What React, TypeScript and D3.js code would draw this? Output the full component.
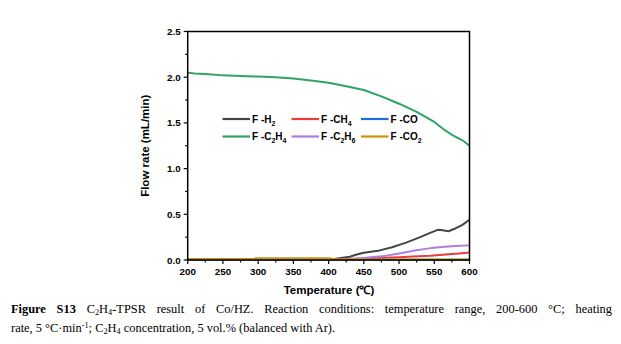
import React from "react";
import * as d3 from "d3";

const xTicks = [200, 250, 300, 350, 400, 450, 500, 550, 600];
const yTicks = [0.0, 0.5, 1.0, 1.5, 2.0, 2.5];

const tempH2 = [200, 300, 400, 410, 420, 430, 440, 450, 470, 490, 510, 530, 545, 555, 562, 570, 580, 590, 600];
const flowH2 = [0.005, 0.005, 0.008, 0.015, 0.025, 0.036, 0.06, 0.08, 0.1, 0.14, 0.19, 0.25, 0.3, 0.33, 0.325, 0.315, 0.345, 0.385, 0.44];

const tempCH4 = [200, 400, 420, 460, 500, 520, 545, 570, 585, 600];
const flowCH4 = [0.004, 0.008, 0.012, 0.02, 0.03, 0.037, 0.047, 0.062, 0.07, 0.082];

const tempCO = [200, 600];
const flowCO = [0.002, 0.002];

const tempC2H4 = [200, 210, 225, 250, 275, 300, 325, 350, 375, 400, 425, 450, 475, 500, 525, 550, 565, 575, 590, 600];
const flowC2H4 = [2.05, 2.04, 2.035, 2.02, 2.012, 2.008, 2.0, 1.985, 1.965, 1.94, 1.9, 1.86, 1.79, 1.71, 1.62, 1.51, 1.42, 1.37, 1.31, 1.25];

const tempC2H6 = [200, 420, 440, 460, 480, 500, 520, 545, 565, 580, 600];
const flowC2H6 = [0.003, 0.005, 0.015, 0.03, 0.045, 0.07, 0.1, 0.13, 0.145, 0.152, 0.16];

const tempCO2 = [200, 295, 296, 400, 410, 600];
const flowCO2 = [0.01, 0.01, 0.02, 0.02, 0.008, 0.005];

const seriesNames = ["H2", "CH4", "CO", "C2H4", "C2H6", "CO2"];
const seriesColors = ["#454545", "#ec3b3b", "#1f6fd4", "#2ea364", "#b07ce0", "#c9930c"];
const seriesTemps = [tempH2, tempCH4, tempCO, tempC2H4, tempC2H6, tempCO2];
const seriesFlows = [flowH2, flowCH4, flowCO, flowC2H4, flowC2H6, flowCO2];

const SANS = "'Liberation Sans', Arial, sans-serif";
const SERIF = "'Liberation Serif', 'Times New Roman', serif";

function Formula({ name }: { name: string }) {
  const parts = name.match(/[A-Za-z]+|\d+/g) || [];
  return (
    <>
      {parts.map((p, i) =>
        /\d/.test(p) ? (
          <tspan key={i} fontSize={7} dy={3}>{p}</tspan>
        ) : (
          <tspan key={i} dy={i > 0 && /\d/.test(parts[i - 1]) ? -3 : 0}>{p}</tspan>
        )
      )}
    </>
  );
}

const subStyle = { fontSize: "8.3px", lineHeight: 0, verticalAlign: "-2px" };
const supStyle = { fontSize: "8.3px", lineHeight: 0, verticalAlign: "4px" };

export default function App() {
  const x = d3.scaleLinear().domain([200, 600]).range([187.7, 469.5]);
  const y = d3.scaleLinear().domain([0, 2.5]).range([260, 31.5]);
  const line = d3
    .line<[number, number]>()
    .x((d) => x(d[0]))
    .y((d) => y(d[1]));

  const xMinor = d3.range(200, 601, 25).filter((v) => v % 50 !== 0);
  const yMinor = d3.range(0.25, 2.5, 0.5);

  const legendCols = [222.5, 291.5, 361];
  const legendRows = [119, 136.5];

  return (
    <svg
      width={621}
      height={344}
      style={{ position: "absolute", left: 0, top: 0, background: "#fff" }}
    >
      <rect x={0} y={0} width={621} height={344} fill="#fff" />
      <g fill="none" strokeWidth={2} strokeLinejoin="round">
        {seriesNames.map((n, i) => (
          <path
            key={n}
            d={line(seriesTemps[i].map((t, j) => [t, seriesFlows[i][j]] as [number, number])) || ""}
            stroke={seriesColors[i]}
          />
        ))}
      </g>
      <rect
        x={x(200)}
        y={y(2.5)}
        width={x(600) - x(200)}
        height={y(0) - y(2.5)}
        fill="none"
        stroke="#000"
        strokeWidth={1.5}
      />
      <g stroke="#000" strokeWidth={1.2}>
        {xTicks.map((t) => (
          <line key={"xt" + t} x1={x(t)} x2={x(t)} y1={y(0)} y2={y(0) + 4} />
        ))}
        {xMinor.map((t) => (
          <line key={"xm" + t} x1={x(t)} x2={x(t)} y1={y(0)} y2={y(0) + 2.5} />
        ))}
        {yTicks.map((t) => (
          <line key={"yt" + t} x1={x(200) - 4} x2={x(200)} y1={y(t)} y2={y(t)} />
        ))}
        {yMinor.map((t) => (
          <line key={"ym" + t} x1={x(200) - 2.5} x2={x(200)} y1={y(t)} y2={y(t)} />
        ))}
      </g>
      <g fontFamily={SANS} fontWeight="bold" fontSize={9.8} fill="#000">
        {xTicks.map((t) => (
          <text key={"xl" + t} x={x(t)} y={y(0) + 14.5} textAnchor="middle">
            {t}
          </text>
        ))}
        {yTicks.map((t) => (
          <text key={"yl" + t} x={x(200) - 7} y={y(t) + 3.5} textAnchor="end">
            {t.toFixed(1)}
          </text>
        ))}
      </g>
      <text x={329} y={294} textAnchor="middle" fontFamily={SANS} fontWeight="bold" fontSize={11.5}>
        Temperature (℃)
      </text>
      <text
        transform={`translate(149,${y(1.25)}) rotate(-90)`}
        textAnchor="middle"
        fontFamily={SANS}
        fontWeight="bold"
        fontSize={11.5}
      >
        Flow rate (mL/min)
      </text>
      <g fontFamily={SANS} fontWeight="bold" fontSize={10}>
        {seriesNames.map((n, i) => {
          const cx = legendCols[i % 3];
          const cy = legendRows[Math.floor(i / 3)];
          return (
            <g key={"lg" + n}>
              <line x1={cx} x2={cx + 27.5} y1={cy} y2={cy} stroke={seriesColors[i]} strokeWidth={2.2} />
              <text x={cx + 29.5} y={cy + 3.6}>
                <tspan>F -</tspan>
                <Formula name={n} />
              </text>
            </g>
          );
        })}
      </g>
      <foreignObject x={11} y={299.5} width={601} height={44}>
        <div style={{ fontFamily: SERIF, fontSize: "12.4px", lineHeight: "19px", color: "#000" }}>
          <div style={{ textAlign: "justify", textAlignLast: "justify" }}>
            <b>Figure S13</b> C<sub style={subStyle}>2</sub>H<sub style={subStyle}>4</sub>-TPSR result of Co/HZ. Reaction
            conditions: temperature range, 200-600 °C; heating
          </div>
          <div>
            rate, 5 °C·min<sup style={supStyle}>-1</sup>; C<sub style={subStyle}>2</sub>H<sub style={subStyle}>4</sub>{" "}
            concentration, 5 vol.% (balanced with Ar).
          </div>
        </div>
      </foreignObject>
    </svg>
  );
}
